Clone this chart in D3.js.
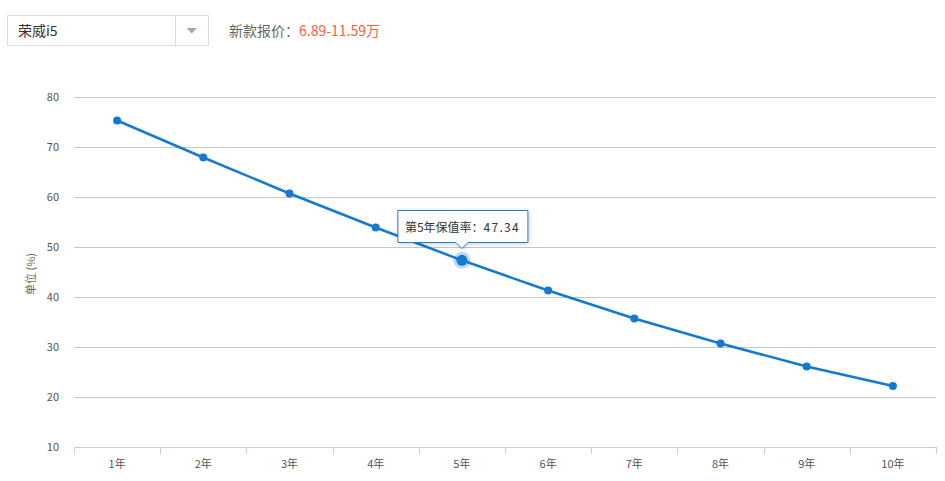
<!DOCTYPE html>
<html><head><meta charset="utf-8">
<script src="https://cdn.jsdelivr.net/npm/d3@7/dist/d3.min.js"></script>
<style>
html,body{margin:0;padding:0;background:#fff;}
svg{display:block;font-family:"Noto Sans CJK SC","Microsoft YaHei",sans-serif;}
</style></head>
<body><svg id="c" width="945" height="481"></svg>
<script>
const categories = ["1年","2年","3年","4年","5年","6年","7年","8年","9年","10年"];
const values = [75.3, 67.9, 60.7, 53.9, 47.34, 41.3, 35.7, 30.7, 26.1, 22.2];
const yTicks = [10,20,30,40,50,60,70,80];
const modelName = "荣威i5";
const priceLabel = "新款报价：";
const priceRange = "6.89-11.59万";
const highlightIndex = 4;
const tooltipLabel = "第5年保值率：";

const svg = d3.select("#c");
const m = {left:74, right:936, top:97, bottom:447};
const x = d3.scaleBand().domain(categories).range([m.left, m.right]);
const y = d3.scaleLinear().domain([10,80]).range([m.bottom, m.top]);

// header
svg.append("rect").attr("x",7.5).attr("y",15.5).attr("width",201).attr("height",30)
  .attr("fill","#fff").attr("stroke","#dcdcdc");
svg.append("line").attr("x1",175.5).attr("x2",175.5).attr("y1",15.5).attr("y2",45.5).attr("stroke","#dcdcdc");
svg.append("path").attr("d","M186.5,28 L197,28 L191.75,33.5 Z").attr("fill","#a3a8b4");
svg.append("text").attr("x",18).attr("y",36).attr("font-size",14).attr("fill","#333").text(modelName);
const pt = svg.append("text").attr("x",229).attr("y",36).attr("font-size",14);
pt.append("tspan").attr("fill","#666").text(priceLabel);
pt.append("tspan").attr("fill","#f6603c").text(priceRange);

// grid
svg.append("g").selectAll("line").data(yTicks.filter(d=>d>10)).join("line")
  .attr("x1",m.left).attr("x2",m.right)
  .attr("y1",d=>Math.round(y(d))+0.5).attr("y2",d=>Math.round(y(d))+0.5)
  .attr("stroke","#c6c6c6");

// y axis labels
const ya = svg.append("g").attr("transform",`translate(${m.left},0)`)
  .call(d3.axisLeft(y).tickValues(yTicks).tickSize(0).tickPadding(15));
ya.select(".domain").remove();
ya.selectAll("text").attr("font-size",11).attr("fill","#555").attr("font-family","\"Noto Sans CJK SC\",sans-serif").attr("dy","0.35em");

svg.append("text").attr("transform","translate(35,274) rotate(-90)")
  .attr("text-anchor","middle").attr("font-size",11).attr("fill","#6b6b4f").text("单位 (%)");

// x axis
const bw = x.bandwidth();
const xg = svg.append("g");
xg.append("line").attr("x1",m.left).attr("x2",m.right+0.5).attr("y1",m.bottom+0.5).attr("y2",m.bottom+0.5).attr("stroke","#c3cfdc");
const edges = categories.map(c=>x(c)).concat([x(categories[categories.length-1])+bw]);
xg.selectAll("line.t").data(edges).join("line").attr("class","t")
  .attr("x1",d=>Math.round(d)+0.5).attr("x2",d=>Math.round(d)+0.5)
  .attr("y1",m.bottom).attr("y2",m.bottom+7).attr("stroke","#c3cfdc");
xg.selectAll("text").data(categories).join("text")
  .attr("x",d=>x(d)+bw/2).attr("y",468).attr("text-anchor","middle")
  .attr("font-size",11).attr("fill","#555").text(d=>d);

// line
const pts = categories.map((c,i)=>[x(c)+bw/2, y(values[i])]);
svg.append("path").attr("d",d3.line()(pts)).attr("fill","none")
  .attr("stroke","#1479d1").attr("stroke-width",2.5).attr("stroke-linejoin","round");
svg.append("g").selectAll("circle").data(pts).join("circle")
  .attr("cx",d=>d[0]).attr("cy",d=>d[1]).attr("r",4).attr("fill","#1479d1");

// highlight
const hp = pts[highlightIndex];
svg.append("circle").attr("cx",hp[0]).attr("cy",hp[1]).attr("r",8.5).attr("fill","#1479d1").attr("fill-opacity",0.28);
svg.append("circle").attr("cx",hp[0]).attr("cy",hp[1]).attr("r",5.5).attr("fill","#1479d1");

// tooltip
const tw=130, th=32, tx=hp[0]-64, ty=210.5;
const cx=hp[0];
svg.append("path").attr("d",
  `M${tx},${ty} H${tx+tw} V${ty+th} H${cx+6} L${cx},${ty+th+6} L${cx-6},${ty+th} H${tx} Z`)
  .attr("fill","#fff").attr("stroke","#1a7fd8").attr("stroke-width",1)
  .style("filter","drop-shadow(1px 1px 2px rgba(0,0,0,0.2))");
const tt = svg.append("text").attr("x",tx+7).attr("y",ty+21).attr("font-size",12).attr("fill","#333");
tt.append("tspan").text(tooltipLabel);
tt.append("tspan").attr("letter-spacing","1.3px").text(values[highlightIndex].toFixed(2));
</script></body></html>
